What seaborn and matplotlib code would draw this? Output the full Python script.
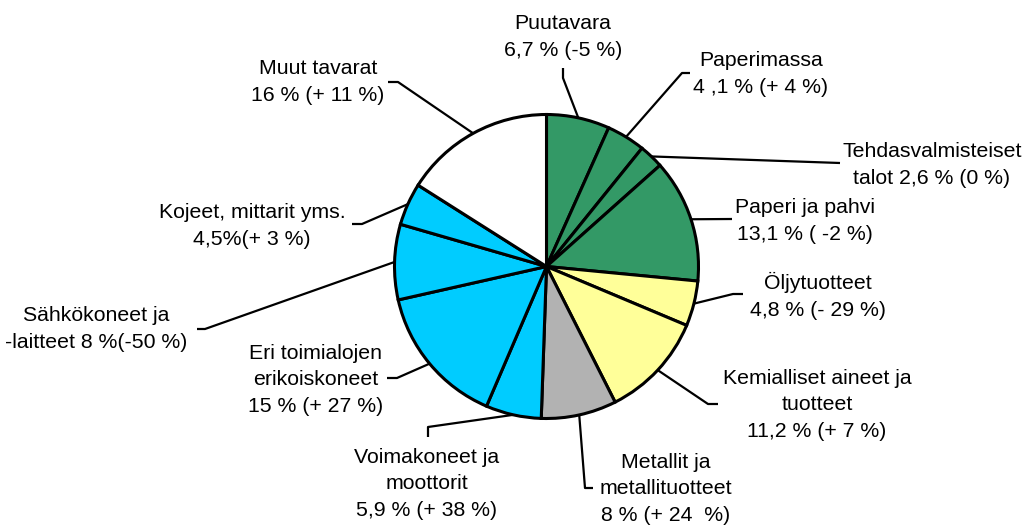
"""
plot.py
-------
Finnish export goods pie chart: share of exports by product group,
with the yearly change in brackets. Saved as out.png.
"""

import matplotlib.pyplot as plt
import numpy as np
import seaborn as sns

# ---------------------------------------------------------------------------
# Data
# ---------------------------------------------------------------------------

GROUPS = [
    "Puutavara", "Paperimassa", "Tehdasvalmisteiset talot", "Paperi ja pahvi",
    "Öljytuotteet", "Kemialliset aineet ja tuotteet", "Metallit ja metallituotteet",
    "Voimakoneet ja moottorit", "Eri toimialojen erikoiskoneet",
    "Sähkökoneet ja -laitteet", "Kojeet, mittarit yms.", "Muut tavarat",
]
SHARES = [6.7, 4.1, 2.6, 13.1, 4.8, 11.2, 8.0, 5.9, 15.0, 8.0, 4.5, 16.0]
LABELS = [
    "Puutavara\n6,7 % (-5 %)",
    "Paperimassa\n4 ,1 % (+ 4 %)",
    "Tehdasvalmisteiset\ntalot 2,6 % (0 %)",
    "Paperi ja pahvi\n13,1 % ( -2 %)",
    "Öljytuotteet\n4,8 % (- 29 %)",
    "Kemialliset aineet ja\ntuotteet\n11,2 % (+ 7 %)",
    "Metallit ja\nmetallituotteet\n8 % (+ 24  %)",
    "Voimakoneet ja\nmoottorit\n5,9 % (+ 38 %)",
    "Eri toimialojen\nerikoiskoneet\n15 % (+ 27 %)",
    "Sähkökoneet ja\n-laitteet 8 %(-50 %)",
    "Kojeet, mittarit yms.\n4,5%(+ 3 %)",
    "Muut tavarat\n16 % (+ 11 %)",
]

GREEN, YELLOW, GREY, BLUE, WHITE = "#339966", "#FFFF99", "#B2B2B2", "#00CCFF", "#FFFFFF"
COLORS = [GREEN] * 4 + [YELLOW] * 2 + [GREY] + [BLUE] * 4 + [WHITE]

# ---------------------------------------------------------------------------
# Layout (pixels of the 1029x527 canvas)
# ---------------------------------------------------------------------------

W, H = 1029, 527
CX, CY, R_PX = 546.5, 266.5, 152.0

# label block centre, leader elbow, leader end
LABEL_POS = [(563, 37), (761, 74), (932, 165), (805, 221), (818, 296), (817, 405),
             (666, 489), (427, 484), (316, 380), (96, 329), (252, 226), (318, 82)]
ELBOWS = [(563, 78), (682, 73), (840, 163), (732, 219), (733, 294), (708, 404),
          (585, 488), (428, 427), (397, 378), (205, 329), (362, 224), (398, 82)]
ENDS = [(563, 68), (690, 73), (840, 163), (732, 219), (743, 294), (718, 404),
        (593, 488), (428, 437), (387, 378), (197, 329), (352, 224), (388, 82)]


def px(p):
    """Pixel position -> data coords (pie radius = 1)."""
    return (p[0] - CX) / R_PX, (CY - p[1]) / R_PX


sns.set_theme(style="white")
plt.rcParams["font.family"] = ["Liberation Sans", "DejaVu Sans"]

fig = plt.figure(figsize=(W / 100, H / 100), dpi=100)
ax = fig.add_axes([0, 0, 1, 1])

wedges, _ = ax.pie(
    SHARES,
    colors=COLORS,
    startangle=90,
    counterclock=False,
    radius=1.0,
    wedgeprops={"edgecolor": "black", "linewidth": 2.2},
)

# pie() resets the limits, so set the canvas mapping afterwards
ax.set_xlim(-CX / R_PX, (W - CX) / R_PX)
ax.set_ylim(-(H - CY) / R_PX, CY / R_PX)
ax.set_aspect("equal")
ax.axis("off")

for wedge, label, lpos, elbow, end in zip(wedges, LABELS, LABEL_POS, ELBOWS, ENDS):
    mid = np.deg2rad((wedge.theta1 + wedge.theta2) / 2)
    start = (np.cos(mid), np.sin(mid))
    ex, ey = px(elbow)
    nx, ny = px(end)
    ax.plot([start[0], ex, nx], [start[1], ey, ny], color="black", linewidth=1.6,
            solid_capstyle="butt", zorder=0)
    tx, ty = px(lpos)
    ax.text(tx, ty, label, ha="center", va="center", fontsize=15.3, color="black",
            linespacing=1.5)

fig.savefig("out.png", dpi=100)
